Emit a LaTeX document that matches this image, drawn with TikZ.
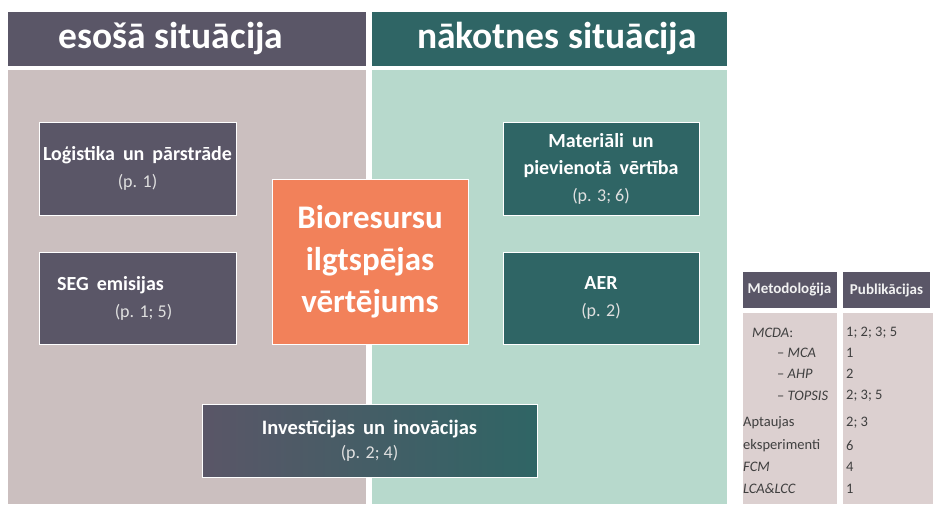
\documentclass[tikz,border=0pt]{standalone}
\usepackage{fontspec}
\setmainfont{Carlito}
\usetikzlibrary{positioning}

\definecolor{plum}{HTML}{5A5667}
\definecolor{pine}{HTML}{2F6565}
\definecolor{rosegrey}{HTML}{CBBFBF}
\definecolor{mint}{HTML}{B7D9CC}
\definecolor{coral}{HTML}{F2815A}
\definecolor{tablebg}{HTML}{DCD0D0}
\definecolor{ink}{HTML}{3F3F3F}

\newcommand{\fsz}[2]{\fontsize{#1}{#2}\selectfont}
\newcommand{\widesp}{\spaceskip=0.4em plus 0.1em\relax}
\newcommand{\pref}[1]{{\mdseries\fsz{18}{24}\spaceskip=0pt\relax\color{white!88!black}#1}}

\begin{document}
\begin{tikzpicture}[x=1pt, y=-1pt,
    tile/.style={draw=white, line width=0.8pt, inner sep=0pt, align=center, text=white},
    header/.style={inner sep=0pt, text=white, font=\bfseries\fsz{37.5}{40}},
    topic/.style={tile, fill=plum, minimum width=197, font=\bfseries\fsz{20}{27}\widesp},
    goal/.style={tile, fill=pine, minimum width=196, font=\bfseries\fsz{20}{27}\widesp},
    tablehead/.style={inner sep=0pt, fill=plum, minimum height=36, text=white!95!black, font=\bfseries\fsz{15}{18}},
    cell/.style={anchor=west, inner sep=0pt, text=ink, font=\fsz{14.5}{17}}]
    \useasboundingbox (0,0) rectangle (933,504);

    \node[header, fill=plum, minimum width=358, minimum height=54] (now) at (187,39) {\hspace*{-32pt}\raisebox{7pt}{esošā situācija}};
    \node[header, fill=pine, minimum width=355, minimum height=54] (future) at (549.5,39) {\hspace*{15pt}\raisebox{7pt}{nākotnes situācija}};
    \node[fill=rosegrey, minimum width=358, minimum height=434, inner sep=0pt] (nowbg) at (187,287) {};
    \node[fill=mint, minimum width=355, minimum height=434, inner sep=0pt] (futurebg) at (549.5,287) {};

    \node[topic, minimum height=93] (logistics) at (137.5,168.5) {Loģistika un pārstrāde\\\pref{(p. 1)}};
    \node[topic, minimum height=92] (emissions) at (137.5,298) {\hspace*{-54pt}SEG emisijas\\\hspace*{12pt}\pref{(p. 1; 5)}};
    \node[goal, minimum height=93] (materials) at (601,168.5) {Materiāli un\\pievienotā vērtība\\\pref{(p. 3; 6)}};
    \node[goal, minimum height=92] (aer) at (601,298) {AER\\\pref{(p. 2)}};
    \node[tile, fill=coral, minimum width=196, minimum height=165, font=\bfseries\fsz{33}{42}] (core) at (370,261.5) {Bioresursu\\ilgtspējas\\vērtējums};
    \node[tile, left color=plum, right color=pine, minimum width=335, minimum height=73, font=\bfseries\fsz{20.5}{24}\widesp] (invest) at (369.5,440.5) {Investīcijas un inovācijas\\\pref{(p. 2; 4)}};

    \node[tablehead, minimum width=94] (methhead) at (789.5,290) {Metodoloģija};
    \node[tablehead, minimum width=87] (pubhead) at (886.5,290) {Publikācijas};
    \node[fill=tablebg, minimum width=94, minimum height=191, inner sep=0pt] (methbody) at (789.5,408.5) {};
    \node[fill=tablebg, minimum width=90, minimum height=191, inner sep=0pt] (pubbody) at (888,408.5) {};
    \foreach \y/\x/\m/\p [count=\i] in {333/752/\textit{MCDA}:/{1; 2; 3; 5}, 353/777/– \textit{MCA}/1,
        374/777/– \textit{AHP}/2, 396/777/– \textit{TOPSIS}/{2; 3; 5}, 423/743/Aptaujas/{2; 3},
        446/743/eksperimenti/6, 467/743/\textit{FCM}/4, 489/743/\textit{LCA\&LCC}/1}{
        \node[cell] (meth\i) at (\x,\y) {\m};
        \node[cell] (pub\i) at (846,\y) {\p};
    }
\end{tikzpicture}
\end{document}
